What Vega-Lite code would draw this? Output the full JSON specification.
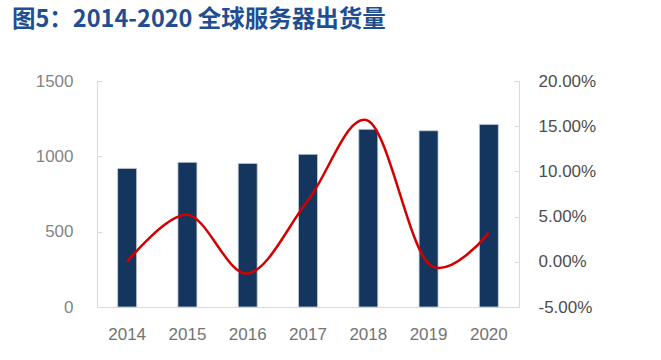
{
  "$schema": "https://vega.github.io/schema/vega-lite/v6.json",
  "width": 422,
  "height": 226,
  "autosize": "none",
  "padding": {"left": 97, "top": 81, "right": 142, "bottom": 53},
  "background": "#ffffff",
  "title": {
    "text": "图5：2014-2020 全球服务器出货量",
    "anchor": "start",
    "frame": "group",
    "dx": -85,
    "offset": 41,
    "fontSize": 23.5,
    "font": "Noto Sans CJK SC",
    "fontWeight": "bold",
    "color": "#1f4e91"
  },
  "data": {
    "values": [
      {"year": "2014", "shipments": 920, "growth": 0.000},
      {"year": "2015", "shipments": 960, "growth": 0.052},
      {"year": "2016", "shipments": 953, "growth": -0.013},
      {"year": "2017", "shipments": 1013, "growth": 0.068},
      {"year": "2018", "shipments": 1179, "growth": 0.156},
      {"year": "2019", "shipments": 1170, "growth": -0.002},
      {"year": "2020", "shipments": 1212, "growth": 0.032}
    ]
  },
  "encoding": {
    "x": {
      "field": "year",
      "type": "ordinal",
      "scale": {"paddingInner": 0.685, "paddingOuter": 0.3425},
      "axis": {
        "title": null,
        "labelAngle": 0,
        "labelFont": "Liberation Sans",
        "labelFontSize": 17,
        "labelColor": "#737373",
        "labelPadding": 19,
        "ticks": false,
        "domainColor": "#d9d9d9",
        "domainWidth": 1
      }
    }
  },
  "layer": [
    {
      "mark": {"type": "bar", "color": "#14365e", "stroke": "#c3cdd9", "strokeWidth": 0.8},
      "encoding": {
        "y": {
          "field": "shipments",
          "type": "quantitative",
          "scale": {"domain": [0, 1500], "nice": false},
          "axis": {
            "title": null,
            "values": [0, 500, 1000, 1500],
            "format": "d",
            "grid": false,
            "labelFont": "Liberation Sans",
            "labelFontSize": 17,
            "labelColor": "#858585",
            "labelPadding": 29,
            "tickSize": -5,
            "tickColor": "#d9d9d9",
            "domainColor": "#d9d9d9"
          }
        }
      }
    },
    {
      "mark": {"type": "line", "color": "#d40000", "strokeWidth": 2.5, "interpolate": "cardinal"},
      "encoding": {
        "y": {
          "field": "growth",
          "type": "quantitative",
          "scale": {"domain": [-0.05, 0.2], "nice": false},
          "axis": {
            "title": null,
            "orient": "right",
            "values": [-0.05, 0, 0.05, 0.1, 0.15, 0.2],
            "format": ".2%",
            "labelExpr": "replace(datum.label, '−', '-')",
            "grid": false,
            "labelFont": "Liberation Sans",
            "labelFontSize": 17,
            "labelColor": "#4d4d4d",
            "labelPadding": 24,
            "tickSize": -5,
            "tickColor": "#d9d9d9",
            "domainColor": "#d9d9d9"
          }
        }
      }
    }
  ],
  "resolve": {"scale": {"y": "independent"}},
  "config": {"view": {"stroke": null}}
}
